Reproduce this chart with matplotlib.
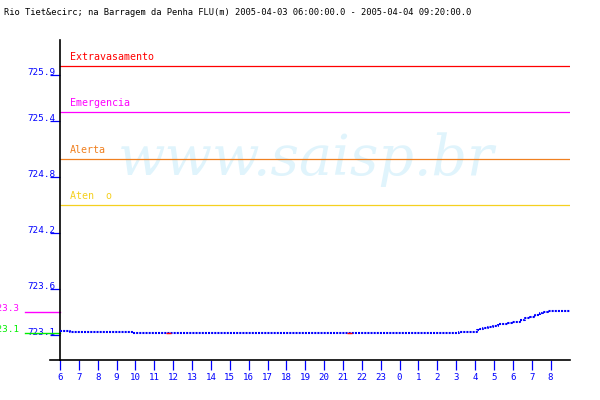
import matplotlib
matplotlib.use("Agg")
import matplotlib.pyplot as plt

# Nivel do rio (m), horas contadas a partir de 00:00 de 2005-04-03
hours = [6.0, 6.55, 9.85, 27.13, 28.08, 28.24, 28.42, 28.66, 28.93, 29.20,
         29.73, 29.94, 30.10, 30.36, 30.63, 30.89, 31.16, 31.42, 31.58, 31.85, 33.03]
levels = [723.146, 723.136, 723.125, 723.136, 723.150, 723.161, 723.172, 723.183,
          723.200, 723.219, 723.233, 723.238, 723.243, 723.262, 723.280, 723.297,
          723.315, 723.334, 723.345, 723.355, 723.355]

# trechos sem dado (desenhados em vermelho)
gap_start = [11.60, 21.20]
gap_end = [11.87, 21.47]

# cotas de referencia
limit_names = ["Extravasamento", "Emergencia", "Alerta", "Aten  o"]
limit_values = [726.0, 725.5, 725.0, 724.5]
limit_colors = ["#ff0000", "#ff00ff", "#f08020", "#f5d020"]

# maximo / minimo do periodo
ext_labels = ["723.3", "723.1"]
ext_values = [723.35, 723.12]
ext_colors = ["#ff00ff", "#00ee00"]

ytick_values = [725.9, 725.4, 724.8, 724.2, 723.6, 723.1]
xtick_hours = list(range(6, 33))
xtick_labels = [str(h % 24) for h in xtick_hours]

title = ("Rio Tiet&ecirc; na Barragem da Penha FLU(m) "
         "2005-04-03 06:00:00.0 - 2005-04-04 09:20:00.0")

blue = "#0000ff"
mono = "DejaVu Sans Mono"

fig = plt.figure(figsize=(6, 4), dpi=100)
ax = fig.add_axes([60 / 600, 40 / 400, 510 / 600, 320 / 400])
ax.set_xlim(6.0, 33.03)
ax.set_ylim(722.831, 726.277)

for s in ["top", "right"]:
    ax.spines[s].set_visible(False)
ax.spines["left"].set_linewidth(1.2)
ax.spines["bottom"].set_linewidth(1.2)
# eixo x avanca um pouco para a esquerda
ax.plot([-10 / 510, 0], [0, 0], transform=ax.transAxes, color="k", lw=1.2, clip_on=False)

# marca d'agua
ax.text(58 / 510, 185 / 320, "www.saisp.br", transform=ax.transAxes,
        family="DejaVu Serif", style="italic", fontsize=40, color="#e0f4fc",
        va="baseline", ha="left", zorder=0)

# linhas de referencia
for name, val, col in zip(limit_names, limit_values, limit_colors):
    ax.axhline(val, color=col, lw=0.9, zorder=2)
    ax.annotate(name, xy=(0, val), xycoords=ax.get_yaxis_transform(),
                xytext=(10, 6), textcoords="offset pixels", color=col,
                family=mono, fontsize=7.2, va="baseline", ha="left")

for lab, val, col in zip(ext_labels, ext_values, ext_colors):
    ax.plot([-35 / 510, 0], [val, val], transform=ax.get_yaxis_transform(),
            color=col, lw=1.0, clip_on=False)
    ax.annotate(lab, xy=(0, val), xycoords=ax.get_yaxis_transform(),
                xytext=(-41, 1), textcoords="offset pixels", color=col,
                family=mono, fontsize=6.7, va="baseline", ha="right",
                annotation_clip=False)

# serie
ax.plot(hours, levels, drawstyle="steps-post", color=blue, lw=1.5,
        linestyle=(0, (1, 0.5)), zorder=3)
ax.hlines([723.125] * len(gap_start), gap_start, gap_end, color="#ff0000", lw=1.0, zorder=4)

# ticks
ax.set_yticks(ytick_values)
ax.set_yticklabels([f"{v:.1f}" for v in ytick_values])
ax.tick_params(axis="y", direction="out", length=7.2, width=0.9, color=blue,
               labelcolor=blue, labelsize=6.7, pad=-3.6)
for t in ax.get_yticklabels():
    t.set_family(mono)
    t.set_va("baseline")

ax.set_xticks(xtick_hours)
ax.set_xticklabels(xtick_labels)
ax.tick_params(axis="x", direction="out", length=7.2, width=0.9, color=blue,
               labelcolor=blue, labelsize=6.6, pad=2.2)
for t in ax.get_xticklabels():
    t.set_family(mono)

fig.text(4 / 600, 1 - 15 / 400, title, family=mono, fontsize=6.3,
         color="k", va="baseline", ha="left")

fig.savefig("out.png", dpi=100)
